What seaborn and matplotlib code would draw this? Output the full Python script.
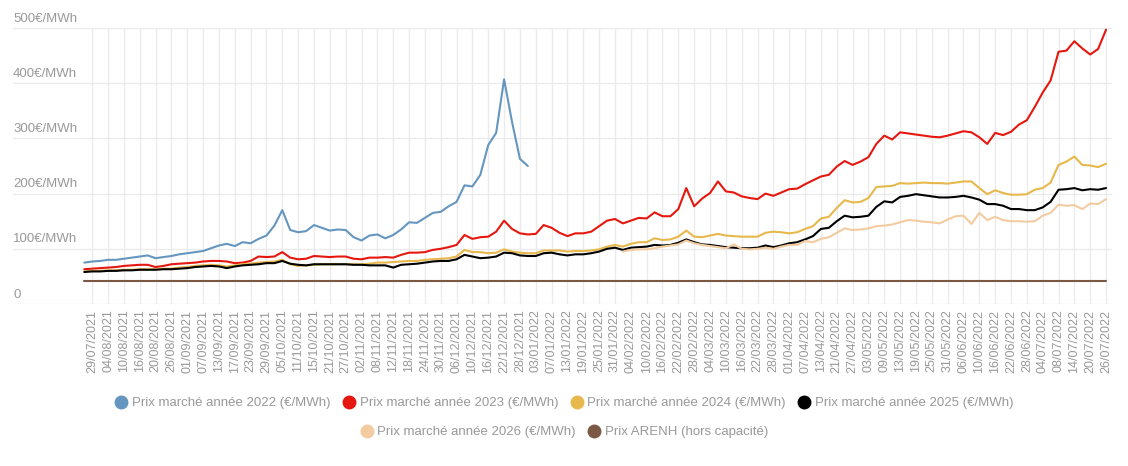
import numpy as np
import pandas as pd
import matplotlib
matplotlib.use("Agg")
import matplotlib.pyplot as plt
from matplotlib.lines import Line2D
import seaborn as sns

sns.set_theme(style="white")
plt.rcParams["font.family"] = ["Liberation Sans", "DejaVu Sans"]

nan = float("nan")

# one label every 4 trading days, one price read every 2 trading days
tick_labels = [
    "29/07/2021", "04/08/2021", "10/08/2021", "16/08/2021", "20/08/2021", "26/08/2021",
    "01/09/2021", "07/09/2021", "13/09/2021", "17/09/2021", "23/09/2021", "29/09/2021",
    "05/10/2021", "11/10/2021", "15/10/2021", "21/10/2021", "27/10/2021", "02/11/2021",
    "08/11/2021", "12/11/2021", "18/11/2021", "24/11/2021", "30/11/2021", "06/12/2021",
    "10/12/2021", "16/12/2021", "22/12/2021", "28/12/2021", "03/01/2022", "07/01/2022",
    "13/01/2022", "19/01/2022", "25/01/2022", "31/01/2022", "04/02/2022", "10/02/2022",
    "16/02/2022", "22/02/2022", "28/02/2022", "04/03/2022", "10/03/2022", "16/03/2022",
    "22/03/2022", "28/03/2022", "01/04/2022", "07/04/2022", "13/04/2022", "21/04/2022",
    "27/04/2022", "03/05/2022", "09/05/2022", "13/05/2022", "19/05/2022", "25/05/2022",
    "31/05/2022", "06/06/2022", "10/06/2022", "16/06/2022", "22/06/2022", "28/06/2022",
    "04/07/2022", "08/07/2022", "14/07/2022", "20/07/2022", "26/07/2022",
]

prix_2022 = [
    75, 77, 78, 80, 80, 82, 84, 86, 88, 83,
    85, 87, 90, 92, 94, 96, 101, 106, 109, 105,
    112, 110, 118, 124, 142, 170, 134, 130, 132, 143,
    138, 133, 135, 134, 121, 115, 124, 126, 119, 125,
    135, 148, 147, 156, 165, 167, 177, 185, 215, 213,
    234, 288, 310, 407, 330, 263, 250,
]
prix_2023 = [
    63, 64, 65, 66, 67, 69, 70, 71, 71, 67,
    69, 72, 73, 74, 75, 77, 78, 78, 77, 74,
    75, 78, 86, 85, 86, 94, 84, 81, 82, 87,
    86, 85, 86, 86, 82, 81, 84, 84, 85, 84,
    89, 93, 93, 94, 98, 100, 103, 107, 125, 118,
    121, 122, 131, 151, 136, 128, 126, 127, 143, 138,
    129, 123, 128, 128, 131, 141, 151, 154, 146, 151,
    156, 155, 166, 159, 159, 172, 210, 177, 191, 201,
    222, 204, 202, 195, 192, 190, 200, 196, 202, 208,
    209, 217, 224, 231, 234, 249, 259, 252, 258, 266,
    290, 305, 298, 311, 309, 307, 305, 303, 302, 305,
    309, 313, 311, 302, 290, 310, 306, 312, 325, 333,
    357, 383, 405, 457, 459, 476, 463, 452, 462, 497,
]
prix_2024 = [
    59, 60, 60, 61, 61, 62, 62, 63, 63, 63,
    64, 64, 66, 67, 69, 70, 71, 70, 68, 70,
    72, 73, 75, 76, 77, 80, 72, 69, 70, 71,
    72, 72, 72, 72, 72, 72, 73, 75, 75, 76,
    77, 78, 78, 80, 81, 82, 83, 86, 98, 94,
    94, 92, 93, 99, 95, 93, 92, 92, 97, 97,
    97, 95, 96, 96, 97, 99, 104, 107, 104, 109,
    112, 112, 119, 116, 117, 122, 133, 122, 121, 124,
    127, 124, 123, 122, 122, 122, 129, 131, 130, 128,
    130, 136, 141, 155, 158, 174, 188, 184, 185, 192,
    212, 213, 214, 219, 218, 219, 220, 219, 219, 218,
    220, 222, 222, 210, 199, 206, 201, 198, 198, 199,
    207, 210, 220, 252, 258, 267, 252, 251, 248, 254,
]
prix_2025 = [
    58, 59, 59, 60, 60, 61, 61, 62, 62, 62,
    63, 63, 64, 65, 67, 68, 69, 68, 65, 68,
    70, 71, 72, 74, 74, 78, 73, 71, 70, 72,
    72, 72, 72, 72, 71, 71, 70, 70, 70, 66,
    71, 72, 73, 75, 77, 78, 78, 81, 89, 86,
    83, 84, 86, 93, 92, 88, 87, 87, 92, 93,
    90, 88, 90, 90, 92, 95, 100, 102, 98, 102,
    103, 104, 107, 106, 107, 111, 117, 112, 108, 107,
    105, 103, 102, 101, 101, 102, 106, 103, 106, 110,
    112, 117, 123, 136, 138, 150, 160, 157, 158, 160,
    176, 186, 184, 194, 196, 199, 197, 195, 193, 193,
    194, 196, 193, 189, 181, 181, 178, 172, 172, 170,
    170, 175, 185, 207, 208, 210, 206, 208, 207, 210,
]
# 2026 quoted from early February 2022 only
debut_2026 = 68
prix_2026 = [
    95, 98, 99, 99, 101, 104, 106, 108, 115, 110,
    107, 105, 103, 101, 108, 100, 99, 100, 102, 100,
    104, 107, 107, 114, 112, 118, 121, 129, 137, 134,
    135, 137, 141, 142, 144, 148, 152, 151, 149, 148,
    146, 153, 159, 160, 145, 165, 152, 158, 152, 150,
    150, 149, 150, 160, 165, 180, 178, 179, 172, 182,
    181, 190,
]
prix_arenh = 42

noms = [
    "Prix marché année 2022 (€/MWh)",
    "Prix marché année 2023 (€/MWh)",
    "Prix marché année 2024 (€/MWh)",
    "Prix marché année 2025 (€/MWh)",
    "Prix marché année 2026 (€/MWh)",
    "Prix ARENH (hors capacité)",
]
couleurs = ["#6596bf", "#e5170f", "#e7b84c", "#000000", "#f2cba1", "#7c5944"]

n = len(prix_2023)


def complete(v, debut=0):
    return [nan] * debut + list(v) + [nan] * (n - debut - len(v))


df = pd.DataFrame({
    "point": np.arange(n),
    noms[0]: complete(prix_2022),
    noms[1]: complete(prix_2023),
    noms[2]: complete(prix_2024),
    noms[3]: complete(prix_2025),
    noms[4]: complete(prix_2026, debut_2026),
    noms[5]: [prix_arenh] * n,
})
long = df.melt(id_vars="point", var_name="serie", value_name="prix").dropna()

fig = plt.figure(figsize=(11.28, 4.66), dpi=100)
ax = fig.add_axes([13 / 1128, 1 - 304 / 466, 1099 / 1128, 276 / 466])

sns.lineplot(data=long, x="point", y="prix", hue="serie", hue_order=noms,
             palette=dict(zip(noms, couleurs)), estimator=None, sort=False,
             linewidth=1.5, legend=False, ax=ax)

gris = "#999999"
ax.set_xlim(-9.0, 129.75)
ax.set_ylim(0, 500)
ax.set_xticks(np.arange(1, n, 2))
ax.set_xticklabels(tick_labels, rotation=90, fontsize=9, color=gris)
ax.set_yticks(np.arange(0, 501, 100))
ax.set_yticklabels([])
ax.tick_params(axis="both", length=0)
ax.tick_params(axis="x", pad=4)
ax.set_xlabel("")
ax.set_ylabel("")
ax.grid(True, color="#ebebeb", linewidth=1)
ax.set_axisbelow(True)
for s in ax.spines.values():
    s.set_visible(False)

for v in range(0, 501, 100):
    lbl = "0" if v == 0 else f"{v}€/MWh"
    ax.annotate(lbl, xy=(0, v), xycoords=ax.get_yaxis_transform(),
                xytext=(0, 2.5), textcoords="offset points",
                ha="left", va="bottom", fontsize=9.5, color=gris)

handles = [Line2D([], [], linestyle="none", marker="o", markersize=9,
                  markerfacecolor=c, markeredgecolor=c) for c in couleurs]
leg_kw = dict(loc="center", frameon=False, fontsize=9.5, labelcolor=gris,
              handletextpad=0.3, columnspacing=0.9, handlelength=1.0)
fig.legend(handles[:4], noms[:4], ncol=4,
           bbox_to_anchor=(0.5, 1 - 403 / 466), **leg_kw)
fig.legend(handles[4:], noms[4:], ncol=2,
           bbox_to_anchor=(0.5, 1 - 432 / 466), **leg_kw)

fig.savefig("out.png", dpi=100)
